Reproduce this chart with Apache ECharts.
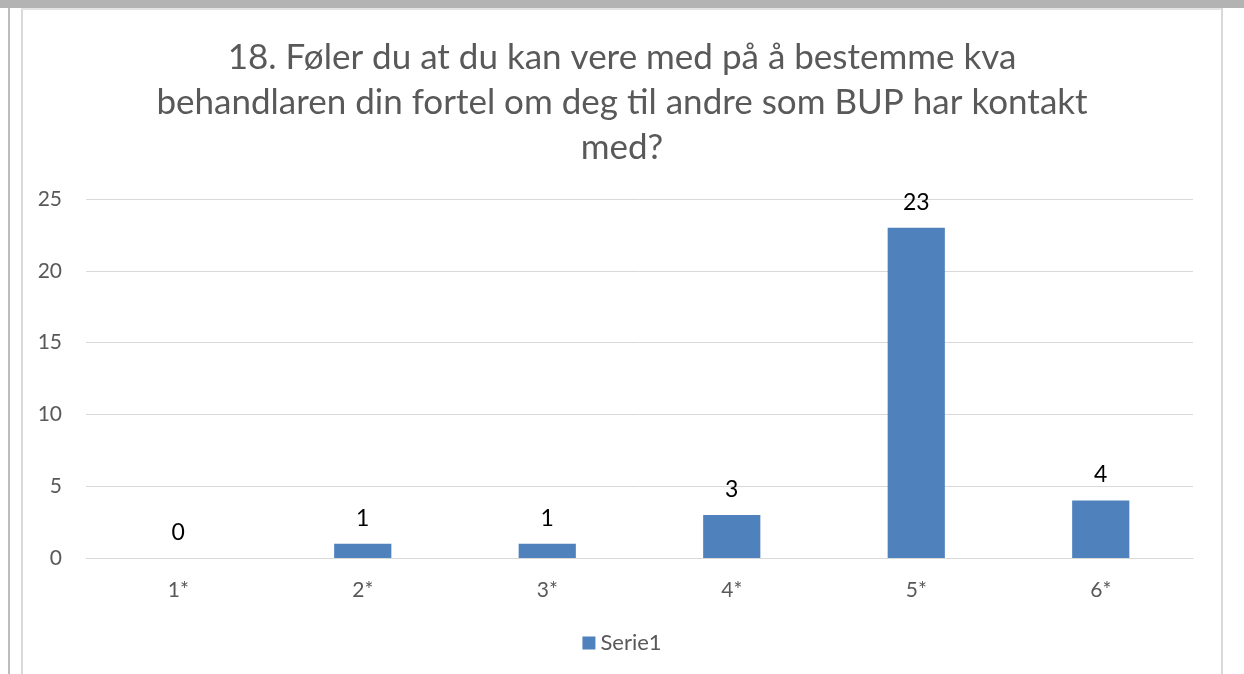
<!DOCTYPE html>
<html>
<head>
<meta charset="utf-8">
<script src="https://cdn.jsdelivr.net/npm/echarts@6/dist/echarts.min.js"></script>
<style>
	html, body { margin: 0; padding: 0; background: #fff; }
	#main { width: 1244px; height: 674px; }
</style>
</head>
<body>
<div id="main"></div>
<script>
	// data
	var categories = ['1*', '2*', '3*', '4*', '5*', '6*'];
	var serie1 = [0, 1, 1, 3, 23, 4];
	var titleText = '18. Føler du at du kan vere med på å bestemme kva\nbehandlaren din fortel om deg til andre som BUP har kontakt\nmed?';

	var chart = echarts.init(document.getElementById('main'));
	var font = 'Lato, "Open Sans", sans-serif';

	var option = {
		animation: false,
		// frame bits round the chart area
		graphic: [
			{ type: 'rect', shape: { x: 0, y: 0, width: 1244, height: 8 }, style: { fill: '#b3b3b3' } },
			{ type: 'rect', shape: { x: 8, y: 8, width: 2, height: 666 }, style: { fill: '#bdbdbd' } },
			{ type: 'rect', shape: { x: 21, y: 8, width: 1202, height: 2 }, style: { fill: '#e3e3e3' } },
			{ type: 'rect', shape: { x: 21, y: 10, width: 2, height: 664 }, style: { fill: '#d9d9d9' } },
			{ type: 'rect', shape: { x: 1221, y: 8, width: 2, height: 666 }, style: { fill: '#d9d9d9' } }
		],
		title: {
			text: titleText,
			left: 'center',
			top: 30,
			textStyle: { color: '#595959', fontSize: 35, fontWeight: 'normal', fontFamily: font, lineHeight: 45 }
		},
		legend: {
			bottom: 15,
			left: 'center',
			data: ['Serie1'],
			icon: 'rect',
			itemWidth: 13,
			itemHeight: 13,
			itemGap: 4,
			textStyle: { color: '#595959', fontSize: 22, fontFamily: font }
		},
		grid: { left: 86, right: 51, top: 199, bottom: 116 },
		xAxis: {
			type: 'category',
			data: categories,
			axisLine: { lineStyle: { color: '#d9d9d9', width: 1 } },
			axisTick: { show: false },
			axisLabel: { color: '#595959', fontSize: 21, fontFamily: font, margin: 22 }
		},
		yAxis: {
			type: 'value',
			min: 0,
			max: 25,
			interval: 5,
			axisLine: { show: false },
			axisTick: { show: false },
			splitLine: { lineStyle: { color: '#d9d9d9', width: 1 } },
			axisLabel: { color: '#595959', fontSize: 21, fontFamily: font, margin: 24 }
		},
		series: [
			{
				name: 'Serie1',
				type: 'bar',
				data: serie1,
				barWidth: '31%',
				itemStyle: { color: '#4f81bd' },
				label: {
					show: true,
					position: 'top',
					distance: 14,
					color: '#000',
					fontSize: 23,
					fontFamily: font
				}
			}
		]
	};

	chart.setOption(option);
</script>
</body>
</html>
